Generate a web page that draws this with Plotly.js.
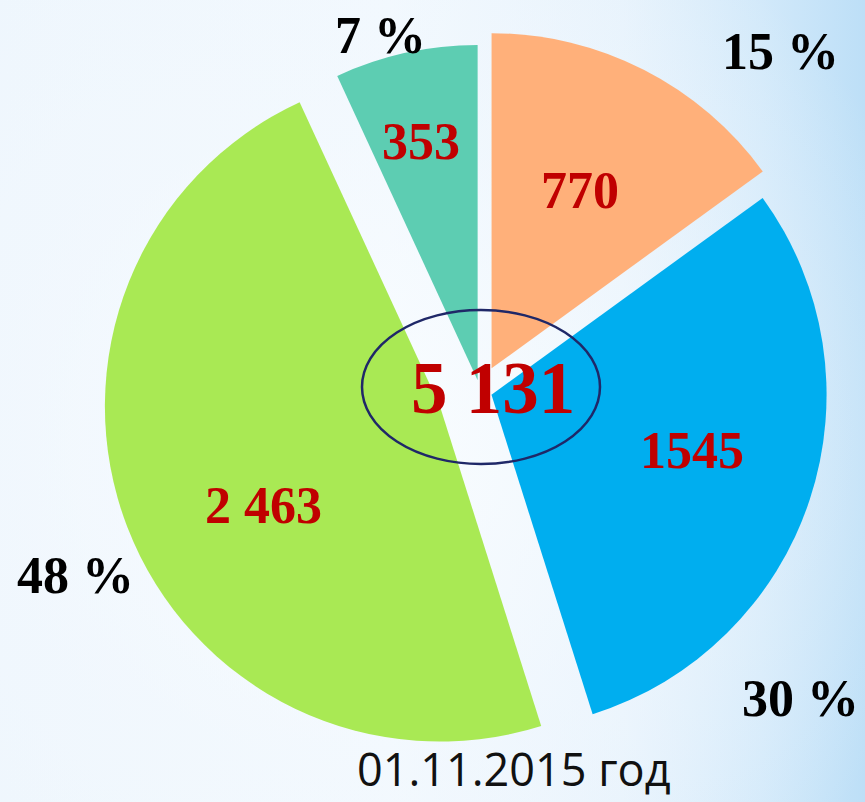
<!DOCTYPE html>
<html>
<head>
<meta charset="utf-8">
<script src="https://cdn.plot.ly/plotly-3.0.1.min.js"></script>
<style>
  html, body { margin: 0; padding: 0; }
  #chart {
    width: 865px; height: 802px;
    background:
      radial-gradient(ellipse 70% 75% at 42% 55%, rgba(250,253,255,0.9) 0%, rgba(244,249,254,0.5) 55%, rgba(244,249,254,0) 100%),
      linear-gradient(to right, #eef6fd 0%, #f1f8fe 45%, #e6f2fc 72%, #d2e9fa 88%, #bddff7 100%);
  }
</style>
</head>
<body>
<div id="chart"></div>
<script>
// Data (clockwise from 12 o'clock)
const categories = ["A", "B", "C", "D"];
const values = [770, 1545, 2463, 353];
const valueLabels = ["770", "1545", "2 463", "353"];
const totalLabel = "5 131";
const dateLabel = "01.11.2015 год";

const colors = ["#FFB07A", "#00AEEF", "#A9E954", "#5DCDB2"];
const pulls = [0.076, 0.036, 0.128, 0.033];

const total = values.reduce((a, b) => a + b, 0);
const pctLabels = values.map(v => Math.round(v / total * 100) + " %");

const W = 865, H = 802;
const px = x => x / W;
const py = y => 1 - y / H;

const serif = { family: "Liberation Serif, Times New Roman, serif", size: 52, color: "#C00000", weight: "bold" };
const serifBlack = { family: "Liberation Serif, Times New Roman, serif", size: 52, color: "#000000", weight: "bold" };

// label positions (pixels)
const valuePos = [[580, 190], [692, 450], [263, 505], [421, 141]];
const pctPos = [[780, 52], [800, 698], [75, 575], [380, 36]];

const annotations = [];
values.forEach((v, i) => {
  annotations.push({
    text: valueLabels[i], x: px(valuePos[i][0]), y: py(valuePos[i][1]),
    xref: "paper", yref: "paper", xanchor: "center", yanchor: "middle",
    showarrow: false, font: serif
  });
  annotations.push({
    text: pctLabels[i], x: px(pctPos[i][0]), y: py(pctPos[i][1]),
    xref: "paper", yref: "paper", xanchor: "center", yanchor: "middle",
    showarrow: false, font: serifBlack
  });
});
annotations.push({
  text: totalLabel, x: px(493), y: py(388), xref: "paper", yref: "paper",
  xanchor: "center", yanchor: "middle", showarrow: false,
  font: { family: "Liberation Serif, Times New Roman, serif", size: 73, color: "#C00000", weight: "bold" }
});
annotations.push({
  text: dateLabel, x: px(514), y: py(801), xref: "paper", yref: "paper",
  xanchor: "center", yanchor: "bottom", showarrow: false,
  font: { family: "Open Sans, sans-serif", size: 45, color: "#111111" }
});

const trace = {
  type: "pie",
  labels: categories,
  values: values,
  sort: false,
  direction: "clockwise",
  rotation: 0,
  pull: pulls,
  marker: { colors: colors, line: { width: 0 } },
  textinfo: "none",
  hoverinfo: "none",
  showlegend: false,
  domain: { x: [102 / W, 858 / W], y: [33 / H, 789 / H] }
};

const layout = {
  width: W, height: H,
  margin: { l: 0, r: 0, t: 0, b: 0 },
  paper_bgcolor: "rgba(0,0,0,0)",
  plot_bgcolor: "rgba(0,0,0,0)",
  showlegend: false,
  annotations: annotations,
  shapes: [{
    type: "circle", xref: "paper", yref: "paper",
    x0: px(362), x1: px(600), y0: py(464), y1: py(310),
    line: { color: "#1F2868", width: 2.5 }, fillcolor: "rgba(0,0,0,0)", layer: "above"
  }]
};

Plotly.newPlot("chart", [trace], layout, { staticPlot: true, displayModeBar: false });
</script>
</body>
</html>
